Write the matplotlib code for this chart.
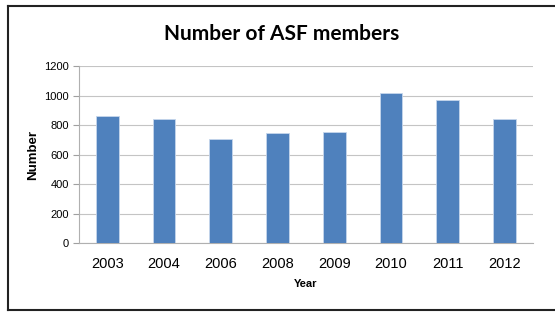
import matplotlib
matplotlib.use("Agg")
import matplotlib.pyplot as plt
from matplotlib.lines import Line2D
import numpy as np

# Datos
years = ["2003", "2004", "2006", "2008", "2009", "2010", "2011", "2012"]
members = [860, 842, 705, 748, 756, 1020, 972, 842]
yticks = [0, 200, 400, 600, 800, 1000, 1200]

plt.rcParams['font.family'] = ['Liberation Sans', 'DejaVu Sans']

fig = plt.figure(figsize=(5.55, 3.12), dpi=100)
ax = fig.add_axes([0.142, 0.221, 0.818, 0.567])

x = np.arange(len(years))
ax.bar(x, members, width=0.4, color="#4F81BD", edgecolor="#c6d6ec", linewidth=0.6, zorder=3)

ax.set_xlim(-0.5, len(years) - 0.5)
ax.set_ylim(0, 1200)
ax.set_yticks(yticks)
ax.set_xticks(x)
ax.set_xticklabels(years, fontsize=10.5)
ax.tick_params(axis='y', labelsize=8, length=4, color="#a0a0a0", direction='out', pad=3)
ax.tick_params(axis='x', length=0, pad=10)
ax.grid(axis='y', color="#c4c4c4", linewidth=0.8, zorder=0)

for side in ["top", "right"]:
    ax.spines[side].set_visible(False)
ax.spines["left"].set_color("#b0b0b0")
ax.spines["bottom"].set_color("#b0b0b0")

ax.set_xlabel("Year", fontsize=8, fontweight="bold", labelpad=6)
ax.set_ylabel("Number", fontsize=9.5, fontweight="bold", labelpad=4)

fig.text(0.507, 0.89, "Number of ASF members", ha="center", va="center",
         fontsize=15, fontweight="bold", family=["Lato", "DejaVu Sans"])

# Marco del grafico
fig.add_artist(Line2D([0.014, 1.0], [0.98, 0.98], color="#222222", linewidth=1.5))
fig.add_artist(Line2D([0.014, 0.014], [0.006, 0.98], color="#222222", linewidth=1.5))
fig.add_artist(Line2D([0.014, 1.0], [0.006, 0.006], color="#222222", linewidth=1.5))

plt.savefig("out.png", dpi=100)
